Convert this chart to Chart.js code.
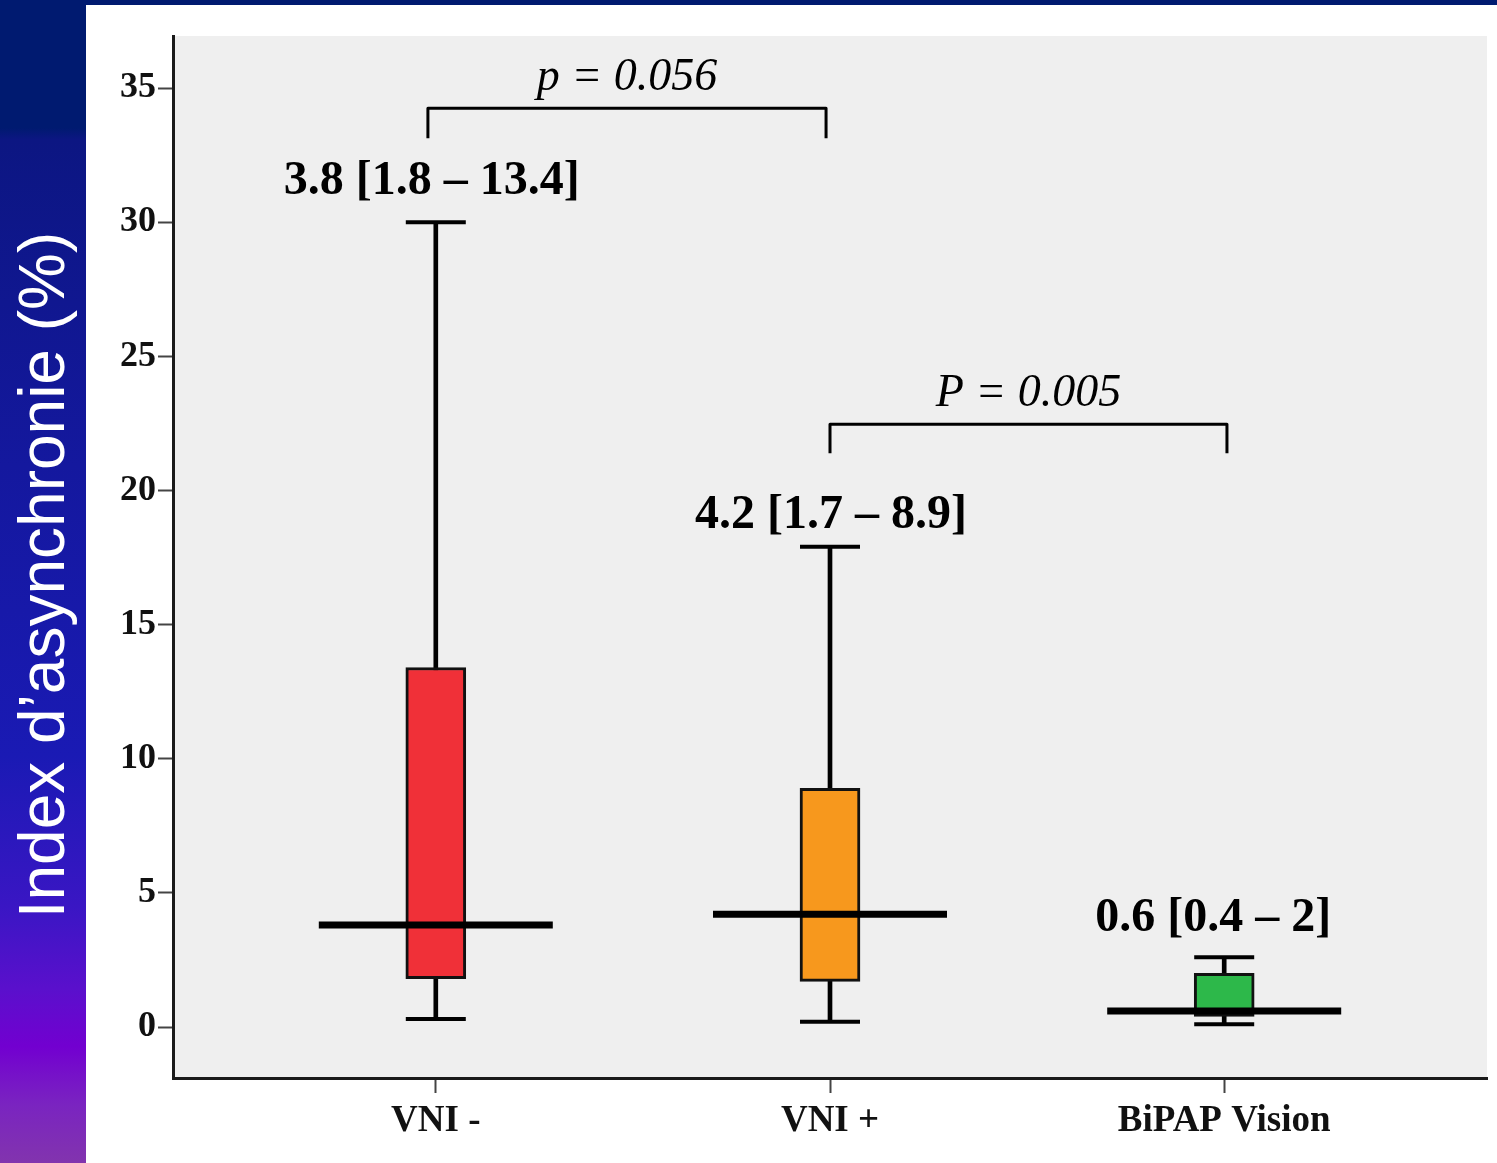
<!DOCTYPE html>
<html>
<head>
<meta charset="utf-8">
<script src="https://cdn.jsdelivr.net/npm/chart.js@4/dist/chart.umd.min.js"></script>
<style>
html,body{margin:0;padding:0;background:#fff;width:1497px;height:1163px;overflow:hidden;}
#strip{position:absolute;left:0;top:0;width:86px;height:1163px;
  background:linear-gradient(to bottom,#001a70 0%,#001a70 11%,#0c1682 12%,#14189e 40%,#1a1ab4 65%,#3a16c4 78%,#5a10cc 85%,#7200d0 90%,#7a24c0 95%,#8234ae 100%);}
#topbar{position:absolute;left:0;top:0;width:1497px;height:5px;background:#001a70;}
#ylabel{position:absolute;left:42px;top:575px;transform:translate(-50%,-50%) rotate(-90deg);
  font-family:"Liberation Sans",Arial,sans-serif;font-size:64px;color:#fff;white-space:nowrap;line-height:1;}
#wrap{position:absolute;left:86px;top:5px;width:1411px;height:1158px;}
</style>
</head>
<body>
<div id="strip"></div>
<div id="topbar"></div>
<div id="ylabel">Index d’asynchronie (%)</div>
<div id="wrap"><canvas id="c" width="1411" height="1158"></canvas></div>
<script>
// ---- data ----
const categories = ['VNI -', 'VNI +', 'BiPAP Vision'];
const whiskerMin = [0.3, 0.2, 0.1];
const q1 = [1.8, 1.7, 0.4];
const median = [3.8, 4.2, 0.6];
const q3 = [13.4, 8.9, 2];
const whiskerMax = [30, 17.9, 2.6];
const yTickValues = [0, 5, 10, 15, 20, 25, 30, 35];
const pLabels = ['p = 0.056', 'P = 0.005'];
const comparisons = [[0, 1], [1, 2]];

// ---- styles / placement ----
const boxColors = ['#f03038', '#f7981d', '#2db84a'];
const summaryDx = [-4, 1, -11];
const summaryLift = [28, 19, 26];
const bracketTop = [34.25, 22.47];
const bracketLeg = [30, 29];
const bracketXAdj = [[-0.02, -0.01], [0.0, 0.007]];

const xs = categories.map((c, i) => i + 1);
const fmt = v => String(v);

const decor = {
  id: 'decor',
  beforeDraw(chart) {
    const {ctx, chartArea: a} = chart;
    ctx.save();
    ctx.fillStyle = '#efefef';
    ctx.fillRect(a.left, a.top, a.right - a.left, a.bottom - a.top);
    ctx.restore();
  },
  afterDraw(chart) {
    const {ctx, scales: {x, y}} = chart;
    ctx.save();
    ctx.fillStyle = '#000';
    ctx.textAlign = 'center';
    ctx.textBaseline = 'alphabetic';
    ctx.font = 'bold 48px "Liberation Serif"';
    categories.forEach((c, i) => {
      const t = `${fmt(median[i])} [${fmt(q1[i])} – ${fmt(q3[i])}]`;
      ctx.fillText(t, x.getPixelForValue(xs[i]) + summaryDx[i], y.getPixelForValue(whiskerMax[i]) - summaryLift[i]);
    });
    ctx.strokeStyle = '#000';
    ctx.lineWidth = 3;
    ctx.lineJoin = 'round';
    comparisons.forEach((pair, k) => {
      const x1 = x.getPixelForValue(xs[pair[0]] + bracketXAdj[k][0]);
      const x2 = x.getPixelForValue(xs[pair[1]] + bracketXAdj[k][1]);
      const yt = y.getPixelForValue(bracketTop[k]);
      const yb = yt + bracketLeg[k];
      ctx.beginPath();
      ctx.moveTo(x1, yb); ctx.lineTo(x1, yt); ctx.lineTo(x2, yt); ctx.lineTo(x2, yb);
      ctx.stroke();
      ctx.font = 'italic 46px "Liberation Serif"';
      ctx.fillText(pLabels[k], (x1 + x2) / 2, yt - 18);
    });
    ctx.restore();
  }
};

const yFont = {family: 'Liberation Serif', size: 36, weight: 'bold'};
const xFont = {family: 'Liberation Serif', size: 37, weight: 'bold'};

new Chart(document.getElementById('c'), {
  type: 'bar',
  data: {
    datasets: [
      {
        type: 'scatter', order: 0,
        data: xs.map((xv, i) => ({x: xv, y: median[i]})),
        pointStyle: 'line', pointRadius: 117, borderWidth: 7, borderColor: '#000', backgroundColor: '#000'
      },
      {
        type: 'scatter', order: 1,
        data: xs.map((xv, i) => ({x: xv, y: whiskerMin[i]})).concat(xs.map((xv, i) => ({x: xv, y: whiskerMax[i]}))),
        pointStyle: 'line', pointRadius: 30, borderWidth: 4, borderColor: '#000', backgroundColor: '#000'
      },
      {
        type: 'bar', order: 2, grouped: false,
        data: xs.map((xv, i) => ({x: xv, y: [q1[i], q3[i]]})),
        backgroundColor: boxColors, borderColor: '#111', borderWidth: 3, borderSkipped: false, barThickness: 60
      },
      {
        type: 'bar', order: 3, grouped: false,
        data: xs.map((xv, i) => ({x: xv, y: [whiskerMin[i], whiskerMax[i]]})),
        backgroundColor: '#000', borderWidth: 0, barThickness: 4
      }
    ]
  },
  options: {
    responsive: false,
    devicePixelRatio: 1,
    animation: false,
    events: [],
    layout: {autoPadding: false, padding: {left: 0, top: 31, right: 10, bottom: 0}},
    plugins: {legend: {display: false}, tooltip: {enabled: false}},
    scales: {
      x: {
        type: 'linear', min: 1 / 3, max: 11 / 3, offset: false,
        afterBuildTicks: s => { s.ticks = xs.map(v => ({value: v})); },
        afterFit: s => { s.height = 85; },
        ticks: {callback: (v, i) => categories[i], font: xFont, color: '#111', padding: 6, maxRotation: 0, autoSkip: false},
        grid: {offset: false, drawOnChartArea: false, drawTicks: true, tickLength: 15, tickColor: '#444', tickWidth: 2},
        border: {display: true, color: '#1a1a1a', width: 3}
      },
      y: {
        min: -1.9, max: 36.94,
        afterBuildTicks: s => { s.ticks = yTickValues.map(v => ({value: v})); },
        afterFit: s => { s.width = 87; },
        ticks: {font: yFont, color: '#111', padding: 2},
        grid: {drawOnChartArea: false, drawTicks: true, tickLength: 15, tickColor: '#444', tickWidth: 2},
        border: {display: true, color: '#1a1a1a', width: 3}
      }
    }
  },
  plugins: [decor]
});
</script>
</body>
</html>
